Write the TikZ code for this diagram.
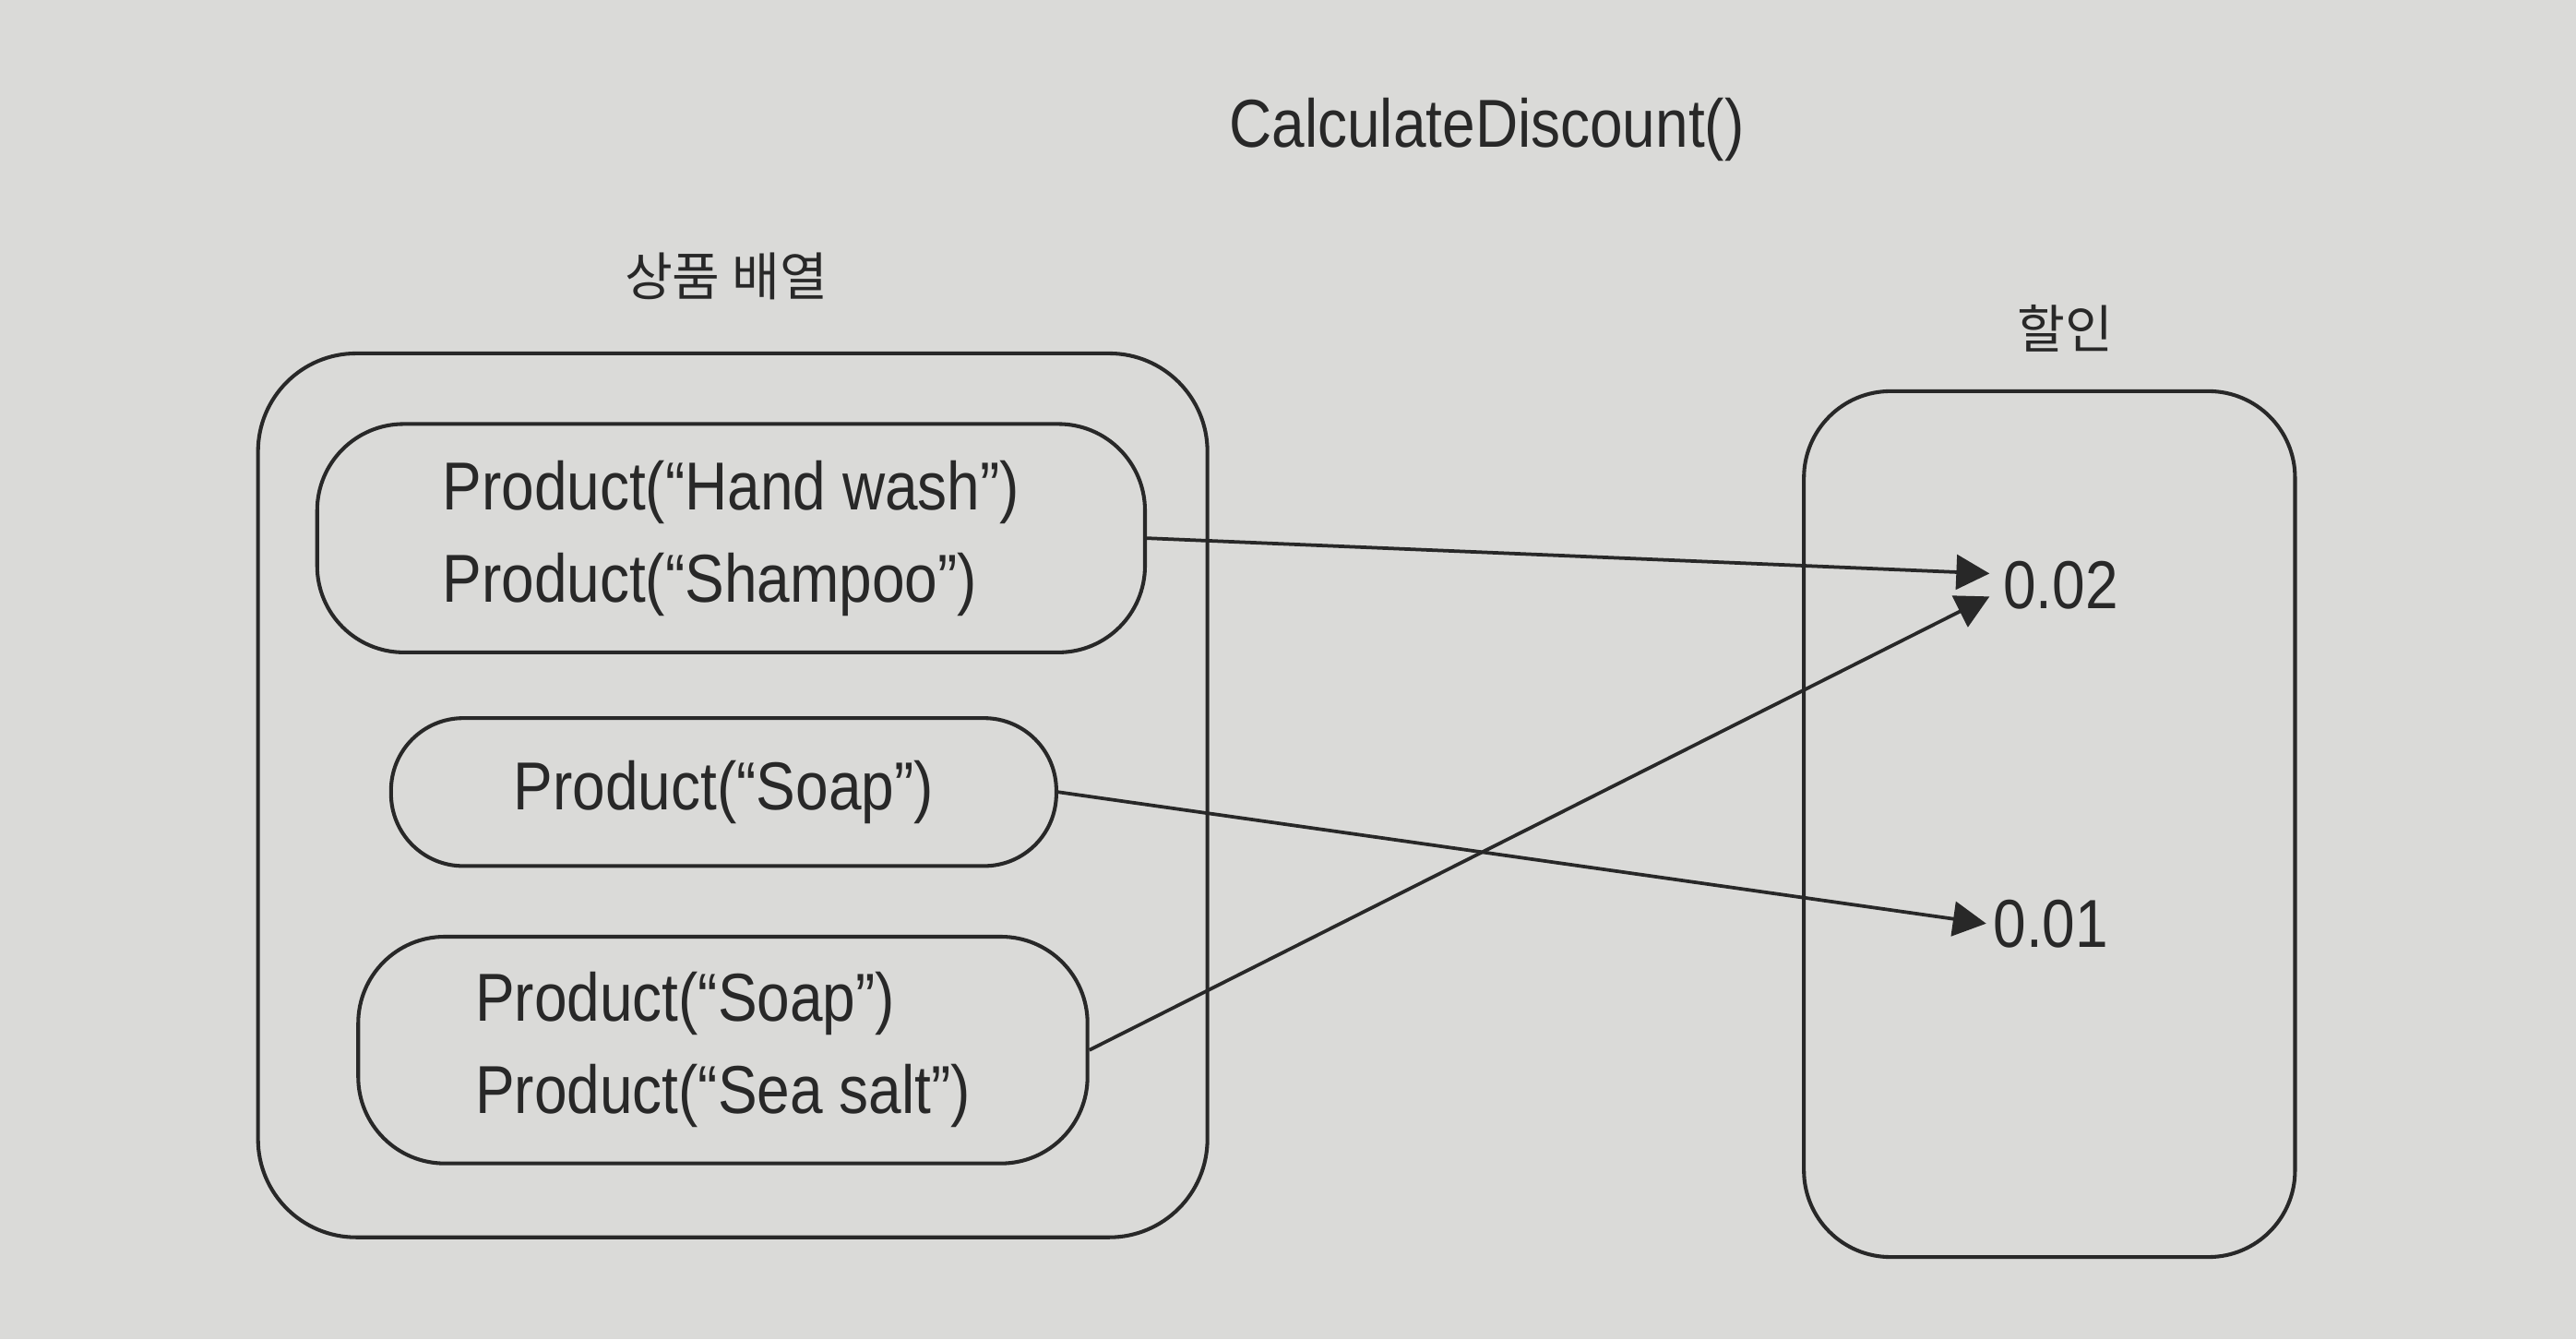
\documentclass[tikz,border=0pt]{standalone}
\usepackage{fontspec}
\setmainfont[FakeStretch=0.87]{Liberation Sans}
\newfontfamily\kofont{Noto Sans CJK KR}
\usetikzlibrary{arrows.meta}
\definecolor{bg}{RGB}{218,218,216}
\definecolor{ink}{RGB}{40,40,40}
\tikzset{
  lbl/.style={font=\fontsize{23.5}{32}\selectfont, text=ink, inner sep=0pt},
  kolbl/.style={font=\kofont\fontsize{18}{21}\selectfont, text=ink, inner sep=0pt},
  grp/.style={draw=ink, line width=1.3pt, rounded corners=#1, inner sep=0pt},
  conn/.style={draw=ink, line width=1.2pt, -{Triangle[length=11.5pt,width=12pt]}},
}
\begin{document}
\begin{tikzpicture}[x=0.02cm,y=-0.02cm]
\fill[bg] (0,0) rectangle (1568,815);
\useasboundingbox (0,0) rectangle (1568,815);

\node[lbl] (title) at (905,79) {CalculateDiscount()};
\node[kolbl] (arr) at (442,168) {상품 배열};
\node[kolbl] (disc) at (1257,200) {할인};

\node[grp=34pt, minimum width=11.56cm, minimum height=10.76cm] (outer) at (446,484) {};
\node[grp=30pt, minimum width=5.98cm, minimum height=10.54cm] (right) at (1247.5,501.5) {};

\node[grp=30pt, minimum width=10.08cm, minimum height=2.78cm, lbl, align=left] (b1) at (445,327.5)
  {Product(“Hand wash”)\\Product(“Shampoo”)};
\node[grp=25pt, minimum width=8.1cm, minimum height=1.8cm, lbl] (b2) at (440.5,482)
  {Product(“Soap”)};
\node[grp=30pt, minimum width=8.88cm, minimum height=2.76cm, lbl, align=left] (b3) at (440,639)
  {Product(“Soap”)\\Product(“Sea salt”)};

\node[lbl, anchor=west] (v2) at (1219,356) {0.02};
\node[lbl, anchor=west] (v1) at (1213,562) {0.01};

\coordinate (t1) at (1211,349);
\coordinate (t3) at (1211,363);
\coordinate (t2) at (1209,562);

\draw[conn] (b1.east) -- (t1);
\draw[conn] (b3.east) -- (t3);
\draw[conn] (b2.east) -- (t2);
\end{tikzpicture}
\end{document}
